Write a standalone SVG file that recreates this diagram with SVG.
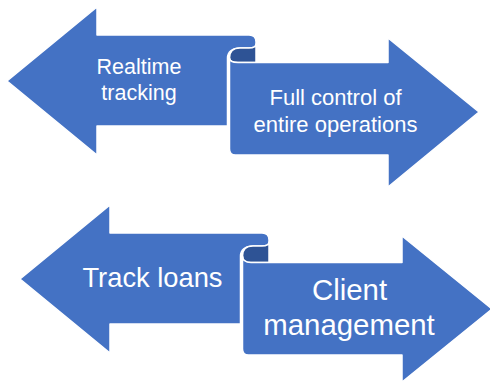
<svg xmlns="http://www.w3.org/2000/svg" width="490" height="382" viewBox="0 0 490 382">
  <style>
    .band { fill: #4472C4; stroke: #FFFFFF; stroke-width: 1.5; stroke-linejoin: round; }
    .curl { fill: #2E5395; stroke: #FFFFFF; stroke-width: 1.5; stroke-linejoin: round; }
    .lbl { fill: #FFFFFF; font-family: "Liberation Sans", Arial, sans-serif; text-anchor: middle; }
  </style>
  <rect width="490" height="382" fill="#FFFFFF"/>
  <g id="connectors"/>
  <g id="ribbon-top">
    <path class="band" d="M7,81 L97,7 L97,35 L249,35 Q256,35 256,42 L256,44 C256,47 253,48 249,48 L240,48 C232,48 227.5,52 227.5,58 L227.5,126 L97,126 L97,155 Z"/>
    <path class="curl" d="M229.5,58 C229.5,52 233,48 240,48 L249,48 C253,48 256,47 256,44 L256,62.5 L238,62.5 C232,62.5 229.5,61 229.5,58 Z"/>
    <path class="band" d="M229.5,58 C229.5,61 232,62.5 238,62.5 L388,62.5 L388,38 L479,112 L388,187 L388,155 L235.5,155 Q229.5,155 229.5,149 Z"/>
  </g>
  <g id="node-realtime">
    <text class="lbl" x="139" y="74" font-size="21.5">Realtime</text>
    <text class="lbl" x="139" y="100" font-size="21.5">tracking</text>
  </g>
  <g id="node-fullcontrol">
    <text class="lbl" x="335.5" y="105" font-size="22">Full control of</text>
    <text class="lbl" x="335.5" y="131.5" font-size="22">entire operations</text>
  </g>
  <g id="ribbon-bottom">
    <path class="band" d="M20,279 L110,205 L110,233 L262,233 Q269,233 269,240 L269,242 C269,245 266,246 262,246 L253,246 C245,246 240.5,250 240.5,256 L240.5,324 L110,324 L110,353 Z"/>
    <path class="curl" d="M242.5,256 C242.5,250 246,246 253,246 L262,246 C266,246 269,245 269,242 L269,262.5 L251,262.5 C245,262.5 242.5,260 242.5,256 Z"/>
    <path class="band" d="M242.5,256 C242.5,260 245,262.5 251,262.5 L402,262.5 L402,236 L492,309 L402,382 L402,355 L248.5,355 Q242.5,355 242.5,349 Z"/>
  </g>
  <g id="node-trackloans">
    <text class="lbl" x="152.5" y="287" font-size="27.3">Track loans</text>
  </g>
  <g id="node-client">
    <text class="lbl" x="349.5" y="300" font-size="29.4">Client</text>
    <text class="lbl" x="349" y="335" font-size="29.4">management</text>
  </g>
</svg>
